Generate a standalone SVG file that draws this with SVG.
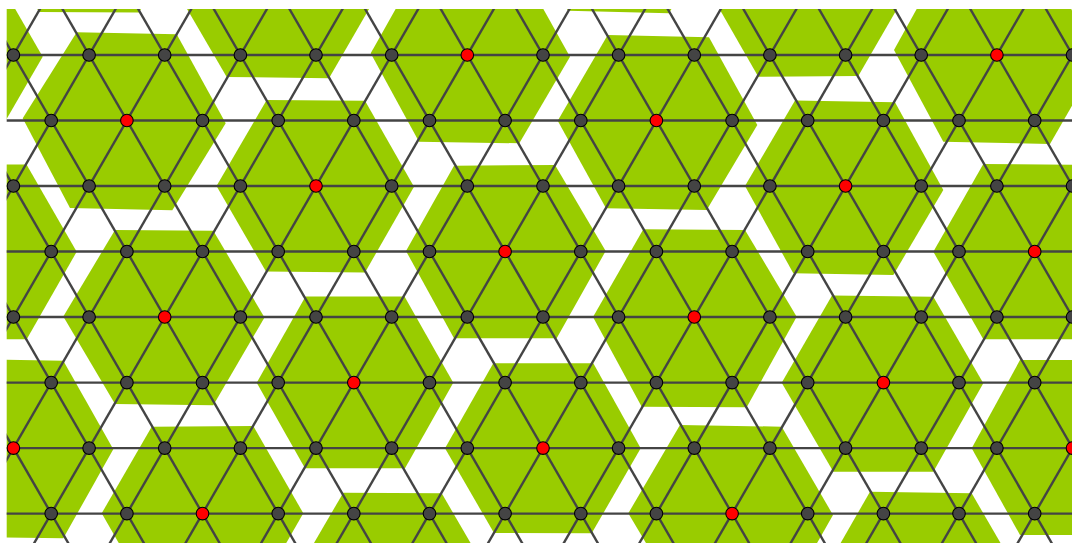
<svg xmlns="http://www.w3.org/2000/svg" width="1072" height="543" viewBox="0 0 1072 543">
<style>
.hex{fill:#99cc00}
.edges line{stroke:#444;stroke-width:2.4}
.n circle{fill:#444;stroke:#000;stroke-width:1.1}
.r circle{fill:#ff0000;stroke:#000;stroke-width:1.1}
</style>
<defs>
<clipPath id="clip"><rect x="6.7" y="9" width="1070" height="540"/></clipPath>
</defs>
<rect width="1072" height="543" fill="#fff"/>
<g clip-path="url(#clip)">
<g id="hexagons">
<polygon id="hex1" class="hex" points="-12,-76 38,-164 139,-164 190,-76 139,12.5 39,12"/>
<polygon id="hex2" class="hex" points="517,-76 568,-164 669,-164 720,-76 669,13.3 568,10.7"/>
<polygon id="hex3" class="hex" points="176,-10 227,-99 329,-99 380,-10 329,78.3 226.7,77"/>
<polygon id="hex4" class="hex" points="708.3,-10.5 758.3,-97 858.3,-97 908.3,-10.5 858.3,76 758.3,76.7"/>
<polygon id="hex5" class="hex" points="-165,55 -113,-33 -9,-33 42.7,56.7 -8,144 -113,144"/>
<polygon id="hex6" class="hex" points="370.7,53.3 419,-32.5 521,-31 570,56.7 519.3,143.3 419,141.7"/>
<polygon id="hex7" class="hex" points="894,50 941,-35 1046,-33 1100,57 1050,144 943.3,141.7"/>
<polygon id="hex8" class="hex" points="22.7,118.3 76.7,32.3 176.7,34.3 225.7,123.3 172.3,210.3 70,208"/>
<polygon id="hex9" class="hex" points="557.7,120.7 607.7,35 709,37.3 757.3,125 706.7,210 606,208.3"/>
<polygon id="hex10" class="hex" points="216.5,186 266.7,100 365,100.7 414,186.7 365,272.5 266,271.5"/>
<polygon id="hex11" class="hex" points="745,186 795,100.5 895,102.3 943.3,190 893.3,275 793.3,273.3"/>
<polygon id="hex12" class="hex" points="-125.2,251.6 -74.7,164 26.5,164.5 76.7,251.7 26.7,339.3 -74.7,339"/>
<polygon id="hex13" class="hex" points="406,251 454,165.7 555,165 605.7,251 556.7,338.3 454,338.3"/>
<polygon id="hex14" class="hex" points="933.3,251.7 983.3,164 1085,165 1136,252 1085,339.3 983.3,339.3"/>
<polygon id="hex15" class="hex" points="63.3,316.5 115,230 213.3,230.7 264.5,317.5 213.3,405.3 115,404"/>
<polygon id="hex16" class="hex" points="593,317 643.3,229.3 745,230 796.7,316.7 746.7,407.3 641.7,406.7"/>
<polygon id="hex17" class="hex" points="256.7,382.7 305.5,296.5 404.5,296.5 453.3,382.7 405,468.3 305,468.3"/>
<polygon id="hex18" class="hex" points="781.7,382.7 832,295.5 933.3,296.7 983.3,383.3 933.3,471.7 833.3,471.7"/>
<polygon id="hex19" class="hex" points="-87,448 -37,359 63.3,360.7 113.3,449.3 63.3,538.3 -37,537"/>
<polygon id="hex20" class="hex" points="445,448.3 493.3,363.3 593.3,363.3 640.7,448.3 591.7,533.3 494,533"/>
<polygon id="hex21" class="hex" points="971.7,448.3 1020,360 1122,360 1173,448 1122,535 1020,535"/>
<polygon id="hex22" class="hex" points="101.7,513.3 151.7,426.7 253.3,426 303.3,513.3 253,601 152,601"/>
<polygon id="hex23" class="hex" points="628.3,513.3 680,425 781.7,426.7 833,515 783,603 681,602"/>
<polygon id="hex24" class="hex" points="293,579 343.3,492.7 441.7,493.3 491.5,579 441,665 343,665"/>
<polygon id="hex25" class="hex" points="820,579 870,491.7 971.7,493.3 1022,580 972,667 870,667"/>
</g>
<g id="connectors" class="edges">
<line x1="0" y1="55" x2="1080" y2="55"/>
<line x1="0" y1="120.5" x2="1080" y2="120.5"/>
<line x1="0" y1="186" x2="1080" y2="186"/>
<line x1="0" y1="251.5" x2="1080" y2="251.5"/>
<line x1="0" y1="317" x2="1080" y2="317"/>
<line x1="0" y1="382.6" x2="1080" y2="382.6"/>
<line x1="0" y1="448.1" x2="1080" y2="448.1"/>
<line x1="0" y1="513.6" x2="1080" y2="513.6"/>
<line x1="-251.4" y1="-10.5" x2="89.05" y2="579.1"/>
<line x1="-175.7" y1="-10.5" x2="164.7" y2="579.1"/>
<line x1="-100.1" y1="-10.5" x2="240.35" y2="579.1"/>
<line x1="-24.4" y1="-10.5" x2="316" y2="579.1"/>
<line x1="51.25" y1="-10.5" x2="391.65" y2="579.1"/>
<line x1="126.9" y1="-10.5" x2="467.3" y2="579.1"/>
<line x1="202.55" y1="-10.5" x2="542.95" y2="579.1"/>
<line x1="278.2" y1="-10.5" x2="618.6" y2="579.1"/>
<line x1="353.85" y1="-10.5" x2="694.25" y2="579.1"/>
<line x1="429.5" y1="-10.5" x2="769.9" y2="579.1"/>
<line x1="505.15" y1="-10.5" x2="845.55" y2="579.1"/>
<line x1="580.8" y1="-10.5" x2="921.2" y2="579.1"/>
<line x1="656.45" y1="-10.5" x2="996.85" y2="579.1"/>
<line x1="732.1" y1="-10.5" x2="1072.5" y2="579.1"/>
<line x1="807.75" y1="-10.5" x2="1148.15" y2="579.1"/>
<line x1="883.4" y1="-10.5" x2="1223.8" y2="579.1"/>
<line x1="959.05" y1="-10.5" x2="1299.45" y2="579.1"/>
<line x1="1034.7" y1="-10.5" x2="1375.1" y2="579.1"/>
<line x1="51.2" y1="-10.5" x2="-289.2" y2="579.1"/>
<line x1="126.9" y1="-10.5" x2="-213.55" y2="579.1"/>
<line x1="202.5" y1="-10.5" x2="-137.9" y2="579.1"/>
<line x1="278.2" y1="-10.5" x2="-62.25" y2="579.1"/>
<line x1="353.8" y1="-10.5" x2="13.4" y2="579.1"/>
<line x1="429.5" y1="-10.5" x2="89.05" y2="579.1"/>
<line x1="505.1" y1="-10.5" x2="164.7" y2="579.1"/>
<line x1="580.8" y1="-10.5" x2="240.35" y2="579.1"/>
<line x1="656.4" y1="-10.5" x2="316" y2="579.1"/>
<line x1="732.1" y1="-10.5" x2="391.65" y2="579.1"/>
<line x1="807.7" y1="-10.5" x2="467.3" y2="579.1"/>
<line x1="883.4" y1="-10.5" x2="542.95" y2="579.1"/>
<line x1="959" y1="-10.5" x2="618.6" y2="579.1"/>
<line x1="1034.7" y1="-10.5" x2="694.25" y2="579.1"/>
<line x1="1110.3" y1="-10.5" x2="769.9" y2="579.1"/>
<line x1="1186" y1="-10.5" x2="845.55" y2="579.1"/>
<line x1="1261.6" y1="-10.5" x2="921.2" y2="579.1"/>
<line x1="1337.3" y1="-10.5" x2="996.85" y2="579.1"/>
</g>
<g id="nodes">
<g id="n0-0" class="n"><circle cx="13.4" cy="55" r="6.3"/></g>
<g id="n0-1" class="n"><circle cx="89.1" cy="55" r="6.3"/></g>
<g id="n0-2" class="n"><circle cx="164.7" cy="55" r="6.3"/></g>
<g id="n0-3" class="n"><circle cx="240.4" cy="55" r="6.3"/></g>
<g id="n0-4" class="n"><circle cx="316" cy="55" r="6.3"/></g>
<g id="n0-5" class="n"><circle cx="391.7" cy="55" r="6.3"/></g>
<g id="n0-6" class="r"><circle cx="467.3" cy="55" r="6.3"/></g>
<g id="n0-7" class="n"><circle cx="543" cy="55" r="6.3"/></g>
<g id="n0-8" class="n"><circle cx="618.6" cy="55" r="6.3"/></g>
<g id="n0-9" class="n"><circle cx="694.3" cy="55" r="6.3"/></g>
<g id="n0-10" class="n"><circle cx="769.9" cy="55" r="6.3"/></g>
<g id="n0-11" class="n"><circle cx="845.6" cy="55" r="6.3"/></g>
<g id="n0-12" class="n"><circle cx="921.2" cy="55" r="6.3"/></g>
<g id="n0-13" class="r"><circle cx="996.9" cy="55" r="6.3"/></g>
<g id="n0-14" class="n"><circle cx="1072.5" cy="55" r="6.3"/></g>
<g id="n1-0" class="n"><circle cx="51.2" cy="120.5" r="6.3"/></g>
<g id="n1-1" class="r"><circle cx="126.9" cy="120.5" r="6.3"/></g>
<g id="n1-2" class="n"><circle cx="202.5" cy="120.5" r="6.3"/></g>
<g id="n1-3" class="n"><circle cx="278.2" cy="120.5" r="6.3"/></g>
<g id="n1-4" class="n"><circle cx="353.8" cy="120.5" r="6.3"/></g>
<g id="n1-5" class="n"><circle cx="429.5" cy="120.5" r="6.3"/></g>
<g id="n1-6" class="n"><circle cx="505.1" cy="120.5" r="6.3"/></g>
<g id="n1-7" class="n"><circle cx="580.8" cy="120.5" r="6.3"/></g>
<g id="n1-8" class="r"><circle cx="656.4" cy="120.5" r="6.3"/></g>
<g id="n1-9" class="n"><circle cx="732.1" cy="120.5" r="6.3"/></g>
<g id="n1-10" class="n"><circle cx="807.7" cy="120.5" r="6.3"/></g>
<g id="n1-11" class="n"><circle cx="883.4" cy="120.5" r="6.3"/></g>
<g id="n1-12" class="n"><circle cx="959" cy="120.5" r="6.3"/></g>
<g id="n1-13" class="n"><circle cx="1034.7" cy="120.5" r="6.3"/></g>
<g id="n2-0" class="n"><circle cx="13.4" cy="186" r="6.3"/></g>
<g id="n2-1" class="n"><circle cx="89.1" cy="186" r="6.3"/></g>
<g id="n2-2" class="n"><circle cx="164.7" cy="186" r="6.3"/></g>
<g id="n2-3" class="n"><circle cx="240.4" cy="186" r="6.3"/></g>
<g id="n2-4" class="r"><circle cx="316" cy="186" r="6.3"/></g>
<g id="n2-5" class="n"><circle cx="391.7" cy="186" r="6.3"/></g>
<g id="n2-6" class="n"><circle cx="467.3" cy="186" r="6.3"/></g>
<g id="n2-7" class="n"><circle cx="543" cy="186" r="6.3"/></g>
<g id="n2-8" class="n"><circle cx="618.6" cy="186" r="6.3"/></g>
<g id="n2-9" class="n"><circle cx="694.3" cy="186" r="6.3"/></g>
<g id="n2-10" class="n"><circle cx="769.9" cy="186" r="6.3"/></g>
<g id="n2-11" class="r"><circle cx="845.6" cy="186" r="6.3"/></g>
<g id="n2-12" class="n"><circle cx="921.2" cy="186" r="6.3"/></g>
<g id="n2-13" class="n"><circle cx="996.9" cy="186" r="6.3"/></g>
<g id="n2-14" class="n"><circle cx="1072.5" cy="186" r="6.3"/></g>
<g id="n3-0" class="n"><circle cx="51.2" cy="251.5" r="6.3"/></g>
<g id="n3-1" class="n"><circle cx="126.9" cy="251.5" r="6.3"/></g>
<g id="n3-2" class="n"><circle cx="202.5" cy="251.5" r="6.3"/></g>
<g id="n3-3" class="n"><circle cx="278.2" cy="251.5" r="6.3"/></g>
<g id="n3-4" class="n"><circle cx="353.8" cy="251.5" r="6.3"/></g>
<g id="n3-5" class="n"><circle cx="429.5" cy="251.5" r="6.3"/></g>
<g id="n3-6" class="r"><circle cx="505.1" cy="251.5" r="6.3"/></g>
<g id="n3-7" class="n"><circle cx="580.8" cy="251.5" r="6.3"/></g>
<g id="n3-8" class="n"><circle cx="656.4" cy="251.5" r="6.3"/></g>
<g id="n3-9" class="n"><circle cx="732.1" cy="251.5" r="6.3"/></g>
<g id="n3-10" class="n"><circle cx="807.7" cy="251.5" r="6.3"/></g>
<g id="n3-11" class="n"><circle cx="883.4" cy="251.5" r="6.3"/></g>
<g id="n3-12" class="n"><circle cx="959" cy="251.5" r="6.3"/></g>
<g id="n3-13" class="r"><circle cx="1034.7" cy="251.5" r="6.3"/></g>
<g id="n4-0" class="n"><circle cx="13.4" cy="317" r="6.3"/></g>
<g id="n4-1" class="n"><circle cx="89.1" cy="317" r="6.3"/></g>
<g id="n4-2" class="r"><circle cx="164.7" cy="317" r="6.3"/></g>
<g id="n4-3" class="n"><circle cx="240.4" cy="317" r="6.3"/></g>
<g id="n4-4" class="n"><circle cx="316" cy="317" r="6.3"/></g>
<g id="n4-5" class="n"><circle cx="391.7" cy="317" r="6.3"/></g>
<g id="n4-6" class="n"><circle cx="467.3" cy="317" r="6.3"/></g>
<g id="n4-7" class="n"><circle cx="543" cy="317" r="6.3"/></g>
<g id="n4-8" class="n"><circle cx="618.6" cy="317" r="6.3"/></g>
<g id="n4-9" class="r"><circle cx="694.3" cy="317" r="6.3"/></g>
<g id="n4-10" class="n"><circle cx="769.9" cy="317" r="6.3"/></g>
<g id="n4-11" class="n"><circle cx="845.6" cy="317" r="6.3"/></g>
<g id="n4-12" class="n"><circle cx="921.2" cy="317" r="6.3"/></g>
<g id="n4-13" class="n"><circle cx="996.9" cy="317" r="6.3"/></g>
<g id="n4-14" class="n"><circle cx="1072.5" cy="317" r="6.3"/></g>
<g id="n5-0" class="n"><circle cx="51.2" cy="382.6" r="6.3"/></g>
<g id="n5-1" class="n"><circle cx="126.9" cy="382.6" r="6.3"/></g>
<g id="n5-2" class="n"><circle cx="202.5" cy="382.6" r="6.3"/></g>
<g id="n5-3" class="n"><circle cx="278.2" cy="382.6" r="6.3"/></g>
<g id="n5-4" class="r"><circle cx="353.8" cy="382.6" r="6.3"/></g>
<g id="n5-5" class="n"><circle cx="429.5" cy="382.6" r="6.3"/></g>
<g id="n5-6" class="n"><circle cx="505.1" cy="382.6" r="6.3"/></g>
<g id="n5-7" class="n"><circle cx="580.8" cy="382.6" r="6.3"/></g>
<g id="n5-8" class="n"><circle cx="656.4" cy="382.6" r="6.3"/></g>
<g id="n5-9" class="n"><circle cx="732.1" cy="382.6" r="6.3"/></g>
<g id="n5-10" class="n"><circle cx="807.7" cy="382.6" r="6.3"/></g>
<g id="n5-11" class="r"><circle cx="883.4" cy="382.6" r="6.3"/></g>
<g id="n5-12" class="n"><circle cx="959" cy="382.6" r="6.3"/></g>
<g id="n5-13" class="n"><circle cx="1034.7" cy="382.6" r="6.3"/></g>
<g id="n6-0" class="r"><circle cx="13.4" cy="448.1" r="6.3"/></g>
<g id="n6-1" class="n"><circle cx="89.1" cy="448.1" r="6.3"/></g>
<g id="n6-2" class="n"><circle cx="164.7" cy="448.1" r="6.3"/></g>
<g id="n6-3" class="n"><circle cx="240.4" cy="448.1" r="6.3"/></g>
<g id="n6-4" class="n"><circle cx="316" cy="448.1" r="6.3"/></g>
<g id="n6-5" class="n"><circle cx="391.7" cy="448.1" r="6.3"/></g>
<g id="n6-6" class="n"><circle cx="467.3" cy="448.1" r="6.3"/></g>
<g id="n6-7" class="r"><circle cx="543" cy="448.1" r="6.3"/></g>
<g id="n6-8" class="n"><circle cx="618.6" cy="448.1" r="6.3"/></g>
<g id="n6-9" class="n"><circle cx="694.3" cy="448.1" r="6.3"/></g>
<g id="n6-10" class="n"><circle cx="769.9" cy="448.1" r="6.3"/></g>
<g id="n6-11" class="n"><circle cx="845.6" cy="448.1" r="6.3"/></g>
<g id="n6-12" class="n"><circle cx="921.2" cy="448.1" r="6.3"/></g>
<g id="n6-13" class="n"><circle cx="996.9" cy="448.1" r="6.3"/></g>
<g id="n6-14" class="r"><circle cx="1072.5" cy="448.1" r="6.3"/></g>
<g id="n7-0" class="n"><circle cx="51.2" cy="513.6" r="6.3"/></g>
<g id="n7-1" class="n"><circle cx="126.9" cy="513.6" r="6.3"/></g>
<g id="n7-2" class="r"><circle cx="202.5" cy="513.6" r="6.3"/></g>
<g id="n7-3" class="n"><circle cx="278.2" cy="513.6" r="6.3"/></g>
<g id="n7-4" class="n"><circle cx="353.8" cy="513.6" r="6.3"/></g>
<g id="n7-5" class="n"><circle cx="429.5" cy="513.6" r="6.3"/></g>
<g id="n7-6" class="n"><circle cx="505.1" cy="513.6" r="6.3"/></g>
<g id="n7-7" class="n"><circle cx="580.8" cy="513.6" r="6.3"/></g>
<g id="n7-8" class="n"><circle cx="656.4" cy="513.6" r="6.3"/></g>
<g id="n7-9" class="r"><circle cx="732.1" cy="513.6" r="6.3"/></g>
<g id="n7-10" class="n"><circle cx="807.7" cy="513.6" r="6.3"/></g>
<g id="n7-11" class="n"><circle cx="883.4" cy="513.6" r="6.3"/></g>
<g id="n7-12" class="n"><circle cx="959" cy="513.6" r="6.3"/></g>
<g id="n7-13" class="n"><circle cx="1034.7" cy="513.6" r="6.3"/></g>
</g>
</g>
</svg>
